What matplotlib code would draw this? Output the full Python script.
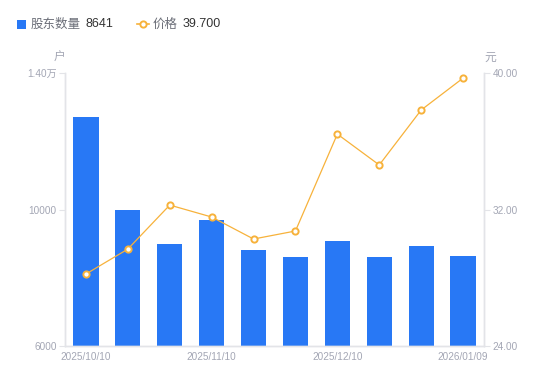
import matplotlib.pyplot as plt
import numpy as np
from matplotlib.lines import Line2D
from matplotlib.patches import Rectangle

plt.rcParams['font.family'] = ['Liberation Sans', 'Noto Sans CJK SC', 'DejaVu Sans']

# --- data ---
dates = ['2025/10/10', '2025/10/20', '2025/10/31', '2025/11/10', '2025/11/20',
         '2025/11/28', '2025/12/10', '2025/12/19', '2025/12/31', '2026/01/09']
holders = [12710, 9990, 8990, 9690, 8810, 8610, 9080, 8610, 8930, 8641]
price = [28.22, 29.68, 32.26, 31.56, 30.27, 30.74, 36.42, 34.61, 37.83, 39.70]
left_ticks = [6000, 10000, 14000]
left_labels = ['6000', '10000', '1.40万']
right_ticks = [24, 32, 40]
right_labels = ['24.00', '32.00', '40.00']
shown_dates = [0, 3, 6, 9]

bar_color = '#2878f5'
line_color = '#f7b23b'
tick_color = '#a3a6b4'
axis_color = '#e3e4e8'
cjk = ['Noto Sans CJK SC', 'DejaVu Sans']

fig = plt.figure(figsize=(5.5, 3.81), dpi=100)
ax = fig.add_axes([65 / 550, 1 - 346 / 381, 419 / 550, 273 / 381])
ax2 = ax.twinx()

x = np.arange(len(dates))
ax.bar(x, holders, width=0.6, color=bar_color, zorder=2)
ax.set_ylim(6000, 14000)
ax.set_xlim(-0.5, len(dates) - 0.5)

ax2.plot(x, price, color=line_color, linewidth=0.9, marker='o', markersize=4.5,
         markerfacecolor='white', markeredgecolor=line_color, markeredgewidth=1.4, zorder=3)
ax2.set_ylim(24, 40)

ax.set_yticks(left_ticks)
ax.set_yticklabels(left_labels)
ax2.set_yticks(right_ticks)
ax2.set_yticklabels(right_labels)
ax.set_xticks([x[i] for i in shown_dates])
ax.set_xticklabels([dates[i] for i in shown_dates])

for a in (ax, ax2):
    a.spines['top'].set_visible(False)
    for s in ('left', 'right', 'bottom'):
        a.spines[s].set_color(axis_color)
        a.spines[s].set_linewidth(1.0)
    a.tick_params(colors=axis_color, labelcolor=tick_color, labelsize=7.2, length=4, width=0.8)
ax.tick_params(axis='x', length=0, pad=4)
ax.tick_params(axis='y', pad=2)
ax2.tick_params(axis='y', pad=2)

# unit labels
fig.text(59 / 550, 1 - 57 / 381, '户', color=tick_color, fontsize=8.5, ha='center', va='center', family=cjk)
fig.text(490 / 550, 1 - 57 / 381, '元', color=tick_color, fontsize=8.5, ha='center', va='center', family=cjk)

# legend row at the top
fig.patches.append(Rectangle((17 / 550, 1 - 29 / 381), 9 / 550, 9 / 381, transform=fig.transFigure,
                             facecolor=bar_color, edgecolor='none'))
fig.text(31 / 550, 1 - 24 / 381, '股东数量', color='#6b6e78', fontsize=9, va='center', family=cjk)
fig.text(85 / 550, 1 - 24 / 381, f'{holders[-1]}', color='#333333', fontsize=9, va='center')
fig.lines.append(Line2D([137 / 550, 149 / 550], [1 - 24 / 381, 1 - 24 / 381], transform=fig.transFigure,
                        color=line_color, linewidth=1.2))
fig.lines.append(Line2D([143 / 550], [1 - 24 / 381], transform=fig.transFigure, color=line_color,
                        marker='o', markersize=4.5, markerfacecolor='white', markeredgewidth=1.4))
fig.text(153 / 550, 1 - 24 / 381, '价格', color='#6b6e78', fontsize=9, va='center', family=cjk)
fig.text(183 / 550, 1 - 24 / 381, f'{price[-1]:.3f}', color='#333333', fontsize=9, va='center')

fig.savefig('out.png', dpi=100)
